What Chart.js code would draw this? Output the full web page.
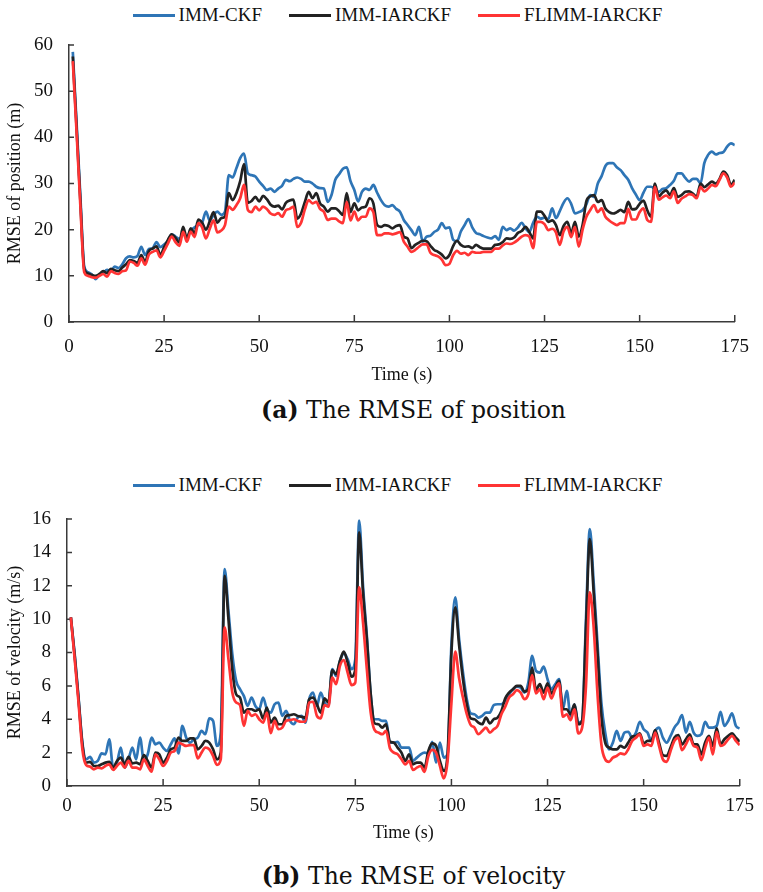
<!DOCTYPE html>
<html>
<head>
<meta charset="utf-8">
<script src="https://cdn.jsdelivr.net/npm/chart.js@4.4.0/dist/chart.umd.min.js"></script>
<style>
  body { margin: 0; background: #fff; width: 763px; height: 892px; position: relative; overflow: hidden; }
  canvas { position: absolute; left: 0; }
  .legend {
    position: absolute; left: 16px; width: 763px; height: 22px;
    display: flex; justify-content: center; align-items: center;
    font-family: "Liberation Serif", "Times New Roman", serif; font-size: 19px; color: #111;
  }
  .legend .item { display: flex; align-items: center; margin: 0 13.5px; }
  .legend .swatch { width: 42px; height: 3px; margin-right: 4px; }
  .caption {
    position: absolute; left: 32px; width: 763px; text-align: center;
    font-family: "DejaVu Serif", serif; font-size: 23.5px; line-height: 28px; color: #111;
  }
</style>
</head>
<body>
<div class="legend" id="legendPos" style="top:4px"></div>
<canvas id="posChart" width="763" height="386" style="top:0"></canvas>
<div class="caption" style="top:396px"><b>(a)</b> The RMSE of position</div>

<div class="legend" id="legendVel" style="top:474px"></div>
<canvas id="velChart" width="763" height="384" style="top:460px"></canvas>
<div class="caption" style="top:862px"><b>(b)</b> The RMSE of velocity</div>

<script>
// =============================================
// RMSE of position / velocity, t = 1..175 s
// =============================================

const seriesNames = ['IMM-CKF', 'IMM-IARCKF', 'FLIMM-IARCKF'];

// sample times (one sample per second)
const timeSec = Array.from({ length: 175 }, (_, i) => i + 1);

// RMSE of position (m)
const posCkf = [
  58.5, 43, 27, 12, 10.8, 10.3, 9.3, 10.2, 10.6, 11.3,
  11, 12, 11.7, 12.5, 13.8, 14.2, 14, 14.3, 16.3, 14.5,
  15.8, 16, 17.3, 16.2, 16.8, 17.5, 19, 18.5, 18, 19,
  18.5, 19.8, 20.5, 21, 21.5, 23.9, 22, 23.2, 23.9, 23.2,
  23.9, 31.8, 31.3, 33.3, 35.5, 36.5, 32.2, 31.8, 31.5, 30.4,
  29.5, 28.6, 28.9, 28.2, 28.9, 29.5, 30.8, 30.5, 31, 31.3,
  31, 30.4, 30.4, 30, 29.3, 29, 28.9, 26, 27.5, 30.8,
  32, 33.2, 33.5, 30.5, 28.6, 26.1, 28.2, 28.9, 28.6, 29.7,
  28, 26.4, 25.3, 25, 25.3, 24.5, 23.9, 22.1, 21, 19.9,
  18.8, 20.6, 17.4, 18.5, 18.7, 19.5, 20, 21.4, 20.3, 20.5,
  17.8, 17.5, 19.6, 21, 22.3, 20.5, 19.3, 19, 18.6, 18.3,
  18.1, 18.6, 17.8, 20.6, 19.9, 20.3, 19.8, 20.5, 21.5, 20.3,
  19.5, 21.5, 22.8, 22.4, 22.6, 22.3, 24.6, 22.5, 24, 25.8,
  26.8, 25.6, 23.5, 23.8, 24.2, 25.5, 27.5, 27.1, 30, 31.6,
  33.8, 34.4, 34.4, 33.5, 32.9, 31.8, 30.8, 29, 27.6, 26.4,
  28, 29.3, 29.3, 28.8, 28.2, 28.8, 29, 29.7, 30.6, 32.2,
  32.2, 31.2, 30.4, 31, 31, 30, 34.4, 36.2, 36.9, 36.3,
  36.6, 36.8, 38, 38.7, 38.3
];
const posIarckf = [
  57.5, 42, 26, 11.5, 10.5, 10.2, 10, 10.4, 11, 10.6,
  11.5, 11.2, 11, 11.8, 12.5, 13.4, 13.2, 12.8, 14.5, 13,
  15.4, 15.9, 16.4, 14.5, 16.2, 17.8, 19, 18.2, 17.2, 20.6,
  18, 20.3, 19.2, 22.2, 21.5, 20, 21.8, 23.8, 21.5, 22.5,
  22.8, 27.9, 26.4, 27.9, 30.5, 34.2, 25.8, 26.2, 27.1, 26.1,
  27.3, 26.6, 25.4, 25, 25.2, 24.4, 25.8, 26.3, 26.5, 22.4,
  23.5, 26, 28.2, 26.8, 27.9, 25.7, 25, 23.9, 24.6, 24.6,
  24, 23.2, 27.9, 23.8, 25.7, 24.2, 24.8, 25, 26.8, 25.7,
  21, 20.6, 21, 20.8, 20.3, 20.8, 21, 18.5, 18.1, 16,
  16.7, 17.2, 17.6, 17.5, 16.5, 15.6, 15.2, 14.6, 13.8, 14.5,
  16.5, 17.6, 16.7, 16.3, 16.4, 16, 16.7, 16.2, 15.9, 15.9,
  15.9, 16.7, 16.8, 17.3, 18.1, 18, 18.3, 19.3, 19.7, 20.6,
  19.5, 18.1, 23.9, 23.9, 23, 21.7, 22, 21, 18.8, 20.8,
  21.7, 19.2, 21.7, 18.5, 21, 26.2, 27.2, 27.5, 26, 26.4,
  24.6, 23.8, 23.5, 23.8, 24.3, 23.8, 26, 24.4, 24.5, 25.6,
  26.3, 24.2, 22.8, 30, 27.2, 28, 28.5, 27.5, 29, 27.1,
  27.5, 28.2, 28.3, 27.8, 27.2, 30, 29.2, 29.8, 30.4, 30,
  31, 32.6, 31.8, 29.7, 30.8
];
const posFlimm = [
  56.5, 41, 25, 10.8, 10, 9.7, 9.6, 10, 10.4, 9.8,
  11, 10.6, 10.4, 11, 11.2, 13.1, 12.8, 12.2, 13.8, 12.4,
  14.6, 15.2, 15.5, 14, 15.4, 17, 18.5, 17.3, 16.5, 19.5,
  17.4, 19.6, 18.4, 21.4, 20.5, 18.1, 20.2, 22, 19.4, 19.8,
  21, 25, 24.3, 25.3, 26.8, 29.7, 24.3, 23.8, 25, 24.2,
  25, 24.5, 23.5, 23.2, 23.6, 22.8, 24.2, 24.5, 25, 20.6,
  21.5, 24.4, 26.4, 25.7, 26, 24.5, 23.9, 22.1, 22.4, 22.4,
  21.8, 21.4, 26, 22, 23.9, 22, 22.8, 22.8, 24.6, 23.8,
  18.8, 18.8, 19.2, 19.2, 19, 19.2, 19.5, 17.4, 16.3, 15.2,
  15.6, 16.3, 16.8, 16.8, 15, 14.5, 14.2, 13.5, 12.3, 12.6,
  14.5, 15.4, 14.8, 15, 14.5, 15.2, 15, 15, 15.2, 15.2,
  15.2, 15.9, 15.9, 16.6, 17, 16.9, 17.2, 17.8, 18.5, 18.8,
  18.5, 16, 21.7, 21.7, 21.2, 19.9, 20.2, 19.4, 16.7, 19.6,
  20.6, 18.4, 20.6, 16.3, 20, 22.8, 24.2, 25.3, 23.8, 24.6,
  22.8, 22, 21.4, 21, 21.4, 21.4, 24.5, 22.2, 22.2, 23.8,
  24.6, 22.1, 21.7, 29.3, 26.5, 27, 27.4, 26.8, 28.3, 25.8,
  26.7, 27.2, 27.7, 27.5, 26.8, 29.3, 28.3, 28.9, 29.7, 29.4,
  30.8, 32.2, 31.3, 29.3, 30.2
];

// RMSE of velocity (m/s)
const velCkf = [
  10.1, 7.9, 5.3, 2.6, 1.6, 1.75, 1.4, 1.5, 1.95, 1.9,
  2.8, 1.1, 1.4, 2.3, 1.1, 1.6, 2.3, 1.6, 2.9, 1.5,
  1.9, 2.9, 2.5, 2.6, 2.3, 2.1, 2.5, 2.85, 1.95, 3.6,
  2.9, 2.6, 2.8, 2.9, 3.3, 3.1, 4.05, 3.9, 2.4, 3.2,
  13.0, 10.5, 7.9, 6.3, 5.8, 5.4, 4.8, 5.3, 4.8, 4.6,
  5.3, 4.6, 4.4, 4.9, 5.0, 4.2, 4.5, 3.9, 3.7, 4.1,
  4.2, 3.8, 5.2, 5.6, 4.8, 5.6, 5.0, 4.8, 7.0, 6.6,
  7.5, 7.95, 7.6, 7.0, 7.6, 15.9, 12.0, 9.0, 5.5, 4.0,
  4.0, 3.9, 3.9, 2.6, 2.6, 2.65, 2.3, 2.3, 2.3, 1.5,
  1.7, 1.9, 2.0, 1.95, 2.65, 1.4, 2.6, 1.7, 1.9, 8.5,
  11.3, 8.8, 6.8, 5.2, 4.35, 4.3, 4.1, 4.2, 4.4, 4.4,
  4.85, 4.9, 4.9, 5.1, 5.5, 5.8, 5.95, 5.9, 5.6, 6.2,
  7.8, 6.9, 6.8, 7.15, 6.4, 5.8, 6.1, 6.4, 4.6, 5.7,
  4.2, 4.9, 3.8, 3.9, 10.0, 15.4, 12.2, 8.5, 5.0, 3.2,
  2.2, 2.6, 3.3, 2.7, 3.2, 3.25, 2.9, 3.2, 3.85, 3.4,
  3.2, 2.7, 3.3, 3.5, 2.9, 2.6, 3.0, 3.5, 3.8, 4.25,
  3.2, 3.85, 3.2, 3.0, 3.1, 3.85, 3.5, 3.5, 3.6, 4.45,
  3.6, 3.9, 4.35, 3.6, 3.45
];
const velIarckf = [
  10.1, 7.8, 5.2, 2.5, 1.4, 1.45, 1.2, 1.2, 1.3, 1.4,
  1.45, 1.1, 1.5, 1.7, 1.3, 1.75, 1.35, 1.4, 1.3, 1.85,
  1.5, 1.1, 2.0, 1.9, 1.4, 1.7, 2.2, 2.3, 2.9, 2.7,
  2.7, 2.85, 2.85, 2.2, 2.4, 2.7, 2.6, 2.2, 1.6, 2.0,
  12.6, 10.0, 7.0, 5.5, 5.3, 4.4, 4.6, 4.6, 4.5, 4.6,
  4.05, 4.7, 3.8, 4.1, 3.7, 3.7, 4.2, 4.25, 4.3, 4.2,
  4.15, 4.1, 5.2, 5.3, 4.9, 4.4, 5.25, 5.0, 6.95, 6.7,
  7.5, 8.05, 7.4, 6.55, 7.0, 15.2, 11.6, 8.8, 5.5, 3.76,
  3.7, 3.5, 3.7, 2.66, 2.6, 2.3, 2.0, 1.5, 1.9, 1.3,
  1.4, 1.4, 1.1, 2.1, 2.55, 2.4, 1.5, 0.9, 1.9, 8.0,
  10.7, 8.45, 6.4, 4.9, 4.05, 4.0, 3.8, 3.7, 4.1, 3.75,
  4.0, 4.1, 4.5, 5.25, 5.6, 5.8, 6.0, 6.0, 5.65, 5.8,
  7.1, 5.75, 6.1, 5.6, 6.15, 5.55, 5.9, 6.3, 4.6, 4.6,
  4.3, 4.9, 3.7, 3.9, 9.5, 14.8, 11.6, 8.0, 4.2, 2.6,
  2.3, 2.2, 2.2, 2.4, 2.3, 2.6, 2.95, 3.0, 3.15, 2.55,
  2.7, 2.7, 3.35, 2.6, 1.85, 1.8, 2.3, 2.9, 3.05, 2.5,
  2.8, 3.1, 2.5, 2.5, 1.9, 2.6, 3.0, 2.4, 3.45, 2.5,
  2.8, 3.0, 3.15, 2.9, 2.65
];
const velFlimm = [
  10.1, 7.6, 5.0, 2.2, 1.25, 1.16, 1.0, 1.1, 1.06, 1.2,
  1.3, 0.96, 1.2, 1.4, 1.1, 1.5, 1.1, 1.1, 1.0, 1.6,
  1.2, 0.86, 1.9, 1.6, 1.2, 1.5, 2.0, 2.1, 2.6, 2.5,
  2.4, 2.45, 2.45, 1.66, 2.0, 2.3, 2.2, 1.8, 1.26, 1.6,
  9.5, 7.6, 5.6, 5.0, 4.85, 3.6, 4.5, 4.2, 4.3, 4.0,
  3.8, 4.4, 3.16, 3.9, 3.4, 3.5, 3.9, 3.95, 4.0, 3.9,
  3.85, 3.85, 5.0, 5.05, 4.2, 4.05, 4.85, 4.75, 6.5, 6.1,
  7.2, 7.55, 6.8, 6.05, 6.2, 11.9, 9.8, 7.0, 4.4, 3.36,
  3.2, 3.1, 3.3, 2.26, 2.0, 1.9, 1.6, 1.3, 1.5, 0.96,
  1.1, 1.2, 0.85, 1.8, 2.16, 2.0, 1.2, 0.46, 1.5, 5.0,
  8.05, 6.45, 5.3, 4.3, 3.66, 3.5, 3.1, 3.3, 3.5, 3.2,
  3.4, 3.6, 4.3, 4.75, 5.3, 5.5, 5.75, 5.6, 5.2, 5.5,
  6.65, 5.55, 5.8, 5.2, 5.9, 5.25, 5.8, 6.15, 4.15, 4.3,
  3.95, 4.6, 3.15, 3.5, 6.0, 11.6, 9.5, 5.5, 2.5, 1.6,
  1.45, 1.7, 1.8, 1.95, 1.9, 2.2, 2.7, 2.9, 3.1, 2.4,
  2.5, 2.4, 3.2, 2.4, 1.6, 1.45, 2.1, 2.7, 2.9, 2.15,
  2.5, 2.9, 2.4, 2.3, 1.55, 2.3, 2.9, 1.9, 3.25, 2.4,
  2.5, 2.8, 3.0, 2.7, 2.45
];

const seriesColors = ['#2e75b6', '#222222', '#ff3434'];
const AXIS_COLOR = '#3a3a3a';
const TEXT_COLOR = '#111111';
const SERIF = '"Liberation Serif", "Times New Roman", serif';

// Tick marks that point into the plot area
const innerTicks = {
  id: 'innerTicks',
  beforeDatasetsDraw(chart) {
    const { ctx, scales: { x, y } } = chart;
    ctx.save();
    ctx.strokeStyle = AXIS_COLOR;
    ctx.lineWidth = 1.5;
    ctx.beginPath();
    x.ticks.forEach(t => {
      const px = x.getPixelForValue(t.value);
      ctx.moveTo(px, y.bottom);
      ctx.lineTo(px, y.bottom - 7);
    });
    y.ticks.forEach(t => {
      const py = y.getPixelForValue(t.value);
      ctx.moveTo(x.left, py);
      ctx.lineTo(x.left + 5, py);
    });
    ctx.stroke();
    ctx.restore();
  }
};

function toPoints(values) {
  return values.map((v, i) => ({ x: timeSec[i], y: v }));
}

function buildLegend(id) {
  const el = document.getElementById(id);
  seriesNames.forEach((name, i) => {
    const item = document.createElement('span');
    item.className = 'item';
    item.innerHTML = '<span class="swatch" style="background:' + seriesColors[i] + '"></span>' + name;
    el.appendChild(item);
  });
}

function makeChart(canvasId, values, cfg) {
  const ctx = document.getElementById(canvasId);
  const datasets = values.map((vals, i) => ({
    label: seriesNames[i],
    data: toPoints(vals),
    borderColor: seriesColors[i],
    backgroundColor: seriesColors[i],
    borderWidth: 2.7,
    pointRadius: 0,
    cubicInterpolationMode: 'monotone',
    fill: false,
    order: 2 - i
  }));

  return new Chart(ctx, {
    type: 'line',
    data: { datasets: datasets },
    options: {
      responsive: false,
      animation: false,
      layout: { padding: { top: cfg.padTop, right: cfg.padRight, left: 0, bottom: 0 } },
      plugins: {
        legend: { display: false },
        tooltip: { enabled: false }
      },
      scales: {
        x: {
          type: 'linear',
          min: 0,
          max: 175,
          grid: { drawOnChartArea: false, drawTicks: false },
          border: { display: true, color: AXIS_COLOR, width: 1.5 },
          ticks: {
            stepSize: 25,
            padding: cfg.xTickPad,
            color: TEXT_COLOR,
            font: { family: SERIF, size: 19 }
          },
          title: {
            display: true,
            text: 'Time (s)',
            color: TEXT_COLOR,
            padding: 0,
            font: { family: SERIF, size: 18 }
          },
          afterFit(scale) { scale.height = cfg.xAxisHeight; }
        },
        y: {
          min: 0,
          max: cfg.yMax,
          grid: { drawOnChartArea: false, drawTicks: false },
          border: { display: true, color: AXIS_COLOR, width: 1.5 },
          ticks: {
            stepSize: cfg.yStep,
            padding: 16,
            color: TEXT_COLOR,
            font: { family: SERIF, size: 19 }
          },
          title: {
            display: true,
            text: cfg.yTitle,
            color: TEXT_COLOR,
            padding: { top: 4, bottom: 0 },
            font: { family: SERIF, size: 18 }
          },
          afterFit(scale) { scale.width = cfg.yAxisWidth; }
        }
      }
    },
    plugins: [innerTicks]
  });
}

buildLegend('legendPos');
buildLegend('legendVel');

makeChart('posChart', [posCkf, posIarckf, posFlimm], {
  yMax: 60, yStep: 10, yTitle: 'RMSE of position (m)',
  padTop: 45, padRight: 15, yAxisWidth: 69,
  xAxisHeight: 386 - 322, xTickPad: 14
});

makeChart('velChart', [velCkf, velIarckf, velFlimm], {
  yMax: 16, yStep: 2, yTitle: 'RMSE of velocity (m/s)',
  padTop: 59, padRight: 14, yAxisWidth: 67,
  xAxisHeight: 384 - 326, xTickPad: 9
});
</script>
</body>
</html>
